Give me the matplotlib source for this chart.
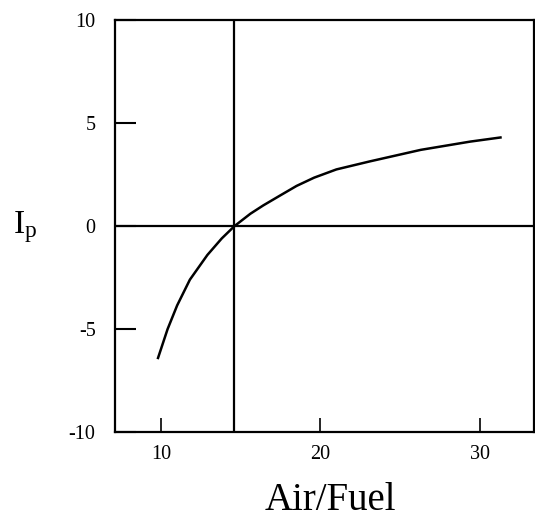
import matplotlib
matplotlib.use("Agg")
import matplotlib.pyplot as plt

# Data
air_fuel = [9.8, 10.4, 11.0, 11.8, 12.9, 13.8, 14.6, 15.6, 16.4, 17.5, 18.5, 19.6, 21.0, 23.1, 26.3, 29.4, 31.3]
ip = [-6.4, -5.0, -3.85, -2.6, -1.4, -0.6, 0.0, 0.6, 1.0, 1.5, 1.95, 2.35, 2.75, 3.14, 3.7, 4.1, 4.3]
stoich = 14.6
x_ticks = [10, 20, 30]
y_ticks = [-10, -5, 0, 5, 10]

plt.rcParams['font.family'] = ['Liberation Serif', 'DejaVu Serif']
plt.rcParams['mathtext.fontset'] = 'custom'
plt.rcParams['mathtext.rm'] = 'Liberation Serif'
plt.rcParams['mathtext.it'] = 'Liberation Serif'

fig = plt.figure(figsize=(5.35, 5.27), dpi=100)
ax = fig.add_axes([0.215, 0.18, 0.783, 0.782])

ax.plot(air_fuel, ip, color='black', lw=1.8)
ax.axhline(0, color='black', lw=1.6)
ax.axvline(stoich, color='black', lw=1.6)

ax.set_xlim(7.1, 33.4)
ax.set_ylim(-10, 10)
ax.set_xticks(x_ticks)
ax.set_yticks(y_ticks)
ax.set_xticklabels([str(v) for v in x_ticks])
ax.set_yticklabels([str(v) for v in y_ticks])
ax.tick_params(axis='y', direction='in', length=15, width=1.5, pad=14, labelsize=14.5)
ax.tick_params(axis='x', direction='in', length=10, width=1.2, pad=9, labelsize=14.5)
for s in ax.spines.values():
    s.set_linewidth(1.6)

fig.text(0.617, 0.05, 'Air/Fuel', fontsize=28, ha='center', va='center')
fig.text(0.046, 0.57, r'I$_{\mathrm{p}}$', fontsize=24, ha='center', va='center')

fig.savefig('out.png', dpi=100)
